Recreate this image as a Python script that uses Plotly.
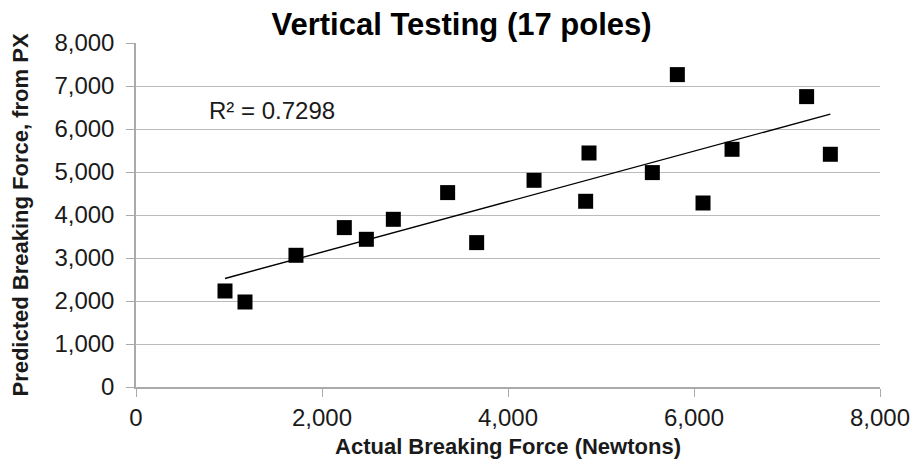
import numpy as np
import plotly.graph_objects as go

actual = [957, 1172, 1720, 2240, 2477, 2767, 3351, 3663, 4280, 4835, 4871,
          5552, 5821, 6097, 6409, 7211, 7466]
predicted = [2233, 1977, 3063, 3707, 3435, 3900, 4521, 3358, 4807, 4319, 5442,
             4986, 7265, 4279, 5528, 6753, 5412]
x_ticks = [0, 2000, 4000, 6000, 8000]
y_ticks = [0, 1000, 2000, 3000, 4000, 5000, 6000, 7000, 8000]
title = "Vertical Testing (17 poles)"
r2_text = "R² = 0.7298"

slope, intercept = np.polyfit(actual, predicted, 1)
fit_x = [min(actual), max(actual)]
fit_y = [slope * v + intercept for v in fit_x]

font = "Liberation Sans, Arial, sans-serif"
fig = go.Figure()
fig.add_trace(go.Scatter(x=fit_x, y=fit_y, mode="lines",
                         line=dict(color="black", width=1.4), hoverinfo="skip"))
fig.add_trace(go.Scatter(x=actual, y=predicted, mode="markers",
                         marker=dict(symbol="square", size=15, color="black",
                                     line=dict(width=0))))
fig.add_annotation(x=765, y=6435, xref="x", yref="y", text=r2_text,
                   showarrow=False, xanchor="left", yanchor="middle",
                   font=dict(family=font, size=24, color="#1a1a1a"))
fig.update_layout(
    width=914, height=459,
    margin=dict(l=136, r=34, t=43, b=72, autoexpand=False),
    paper_bgcolor="white", plot_bgcolor="white",
    showlegend=False,
    title=dict(text="<b>" + title + "</b>", x=0.505, xanchor="center", y=0.948,
               yanchor="middle", font=dict(family=font, size=31, color="black")),
    font=dict(family=font, color="#1a1a1a"),
)
fig.update_xaxes(range=[0, 8000], tickvals=x_ticks, tickformat=",d",
                 showgrid=False, showline=True, linecolor="#aaa", linewidth=1.5,
                 ticks="outside", ticklen=8, tickcolor="#aaa", zeroline=False,
                 automargin=False,
                 tickfont=dict(size=24, color="#1a1a1a"),
                 title=dict(text="<b>Actual Breaking Force (Newtons)</b>",
                            font=dict(size=22, color="#1a1a1a"), standoff=10))
fig.update_yaxes(range=[0, 8000], tickvals=y_ticks, tickformat=",d",
                 showgrid=True, gridcolor="#bbb", gridwidth=1.4,
                 showline=True, linecolor="#aaa", linewidth=1.5,
                 ticks="outside", ticklen=8, tickcolor="#aaa", zeroline=False,
                 automargin=False, ticklabelstandoff=7,
                 tickfont=dict(size=24, color="#1a1a1a"),
                 title=dict(text="<b>Predicted Breaking Force, from PX</b>",
                            font=dict(size=22, color="#1a1a1a"), standoff=20))
fig.write_html("out.html", config={"displayModeBar": False},
               post_script="document.body.style.margin='0';")
